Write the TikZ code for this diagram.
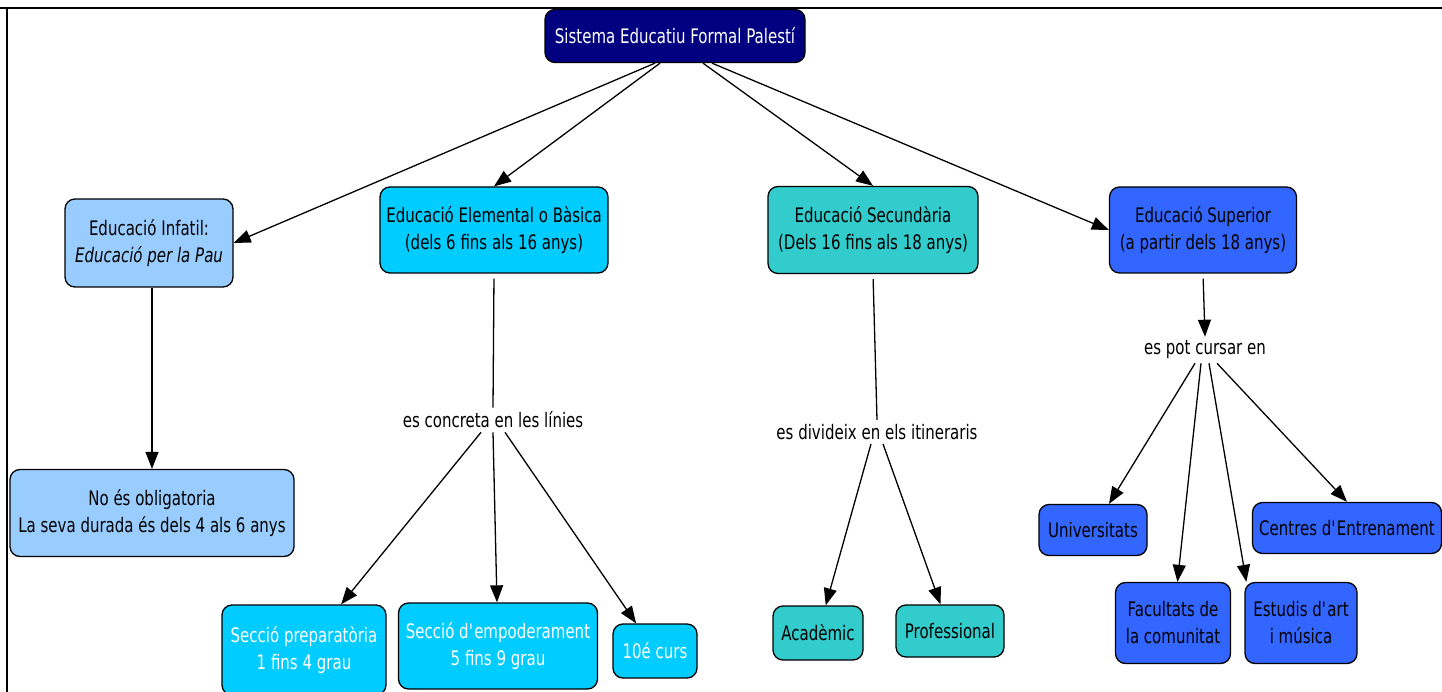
\documentclass[tikz,border=0pt]{standalone}
\usepackage{fontspec}
\setmainfont{DejaVu Sans}[FakeStretch=0.75]
\usepackage{tikz}
\usetikzlibrary{arrows.meta, positioning}
\definecolor{pal-navy}{HTML}{000080}
\definecolor{pal-sky}{HTML}{99CCFF}
\definecolor{pal-cyan}{HTML}{00CCFF}
\definecolor{pal-teal}{HTML}{33CCCC}
\definecolor{pal-blue}{HTML}{3366FF}

\begin{document}
\begin{tikzpicture}[x=1pt, y=-1pt,
		concept/.style={draw, line width=1.3pt, rounded corners=10pt, align=center, inner sep=4pt, font=\fontsize{20}{27}\selectfont},
		linker/.style={inner sep=4pt, font=\fontsize{20}{27}\selectfont},
		link/.style={line width=1.3pt, -{Triangle[length=17pt, width=13pt]}},
		plainlink/.style={line width=1.3pt, shorten <=5pt}]
	\useasboundingbox (0,0) rectangle (1442,692);
	\draw[line width=1.5pt] (0,8) -- (1442,8);
	\draw[line width=1.5pt] (7,8) -- (7,692);

	\node[concept, fill=pal-navy, text=white, minimum width=260pt, minimum height=53pt] at (675,36) (sys) {Sistema Educatiu Formal Palestí};

	\node[concept, fill=pal-sky, minimum width=168pt, minimum height=88pt] at (149,243) (inf) {Educació Infatil:\\\textit{Educació per la Pau}};
	\node[concept, fill=pal-cyan, minimum width=228pt, minimum height=86pt] at (494,230) (elem) {Educació Elemental o Bàsica\\(dels 6 fins als 16 anys)};
	\node[concept, fill=pal-teal, minimum width=210pt, minimum height=87pt] at (873,230) (sec) {Educació Secundària\\(Dels 16 fins als 18 anys)};
	\node[concept, fill=pal-blue, minimum width=187pt, minimum height=86pt] at (1203,230) (sup) {Educació Superior\\(a partir dels 18 anys)};

	\node[concept, fill=pal-sky, minimum width=284pt, minimum height=87pt] at (152,513) (noobl) {No és obligatoria\\La seva durada és dels 4 als 6 anys};

	\node[linker] at (493,420) (concreta) {es concreta en les línies};
	\node[linker] at (877,432) (divideix) {es divideix en els itineraris};
	\node[linker] at (1205,350) (cursar) {es pot cursar en};

	\node[concept, fill=pal-cyan, text=white, minimum width=164pt, minimum height=90pt] at (304,650) (prep) {Secció preparatòria\\1 fins 4 grau};
	\node[concept, fill=pal-cyan, text=white, minimum width=199pt, minimum height=86pt] at (498,646) (empod) {Secció d\textquotesingle empoderament\\5 fins 9 grau};
	\node[concept, fill=pal-cyan, text=white, minimum width=84pt, minimum height=54pt] at (655,651) (curs) {10é curs};

	\node[concept, fill=pal-teal, minimum width=90pt, minimum height=54pt] at (818,633) (acad) {Acadèmic};
	\node[concept, fill=pal-teal, minimum width=108pt, minimum height=52pt] at (950,631) (prof) {Professional};

	\node[concept, fill=pal-blue, minimum width=108pt, minimum height=51pt] at (1093,530) (univ) {Universitats};
	\node[concept, fill=pal-blue, minimum width=189pt, minimum height=51pt] at (1347,528) (centres) {Centres d\textquotesingle Entrenament};
	\node[concept, fill=pal-blue, minimum width=115pt, minimum height=81pt] at (1173,623) (facul) {Facultats de\\la comunitat};
	\node[concept, fill=pal-blue, minimum width=112pt, minimum height=81pt] at (1301,623) (estudis) {Estudis d\textquotesingle art\\i música};

	\draw[link] ([xshift=-20pt]sys.south) -- (inf.east);
	\draw[link] ([xshift=-15pt]sys.south) -- (elem.north);
	\draw[link] ([xshift=28pt]sys.south) -- (sec.north);
	\draw[link] ([xshift=37pt]sys.south) -- (sup.west);

	\draw[link] (inf.south -| noobl.north) -- (noobl.north);

	\draw[plainlink] (elem.south) -- (concreta.north);
	\draw[link] ([xshift=-12pt]concreta.south) -- (prep);
	\draw[link] (concreta.south) -- (empod);
	\draw[link] ([xshift=12pt]concreta.south) -- (curs);

	\draw[plainlink] (sec.south) -- (divideix.north);
	\draw[link] ([xshift=-6pt]divideix.south) -- (acad);
	\draw[link] ([xshift=6pt]divideix.south) -- (prof);

	\draw[link, shorten <=5pt] (sup.south) -- (cursar.north);
	\draw[link] ([xshift=-10pt]cursar.south) -- (univ);
	\draw[link] ([xshift=-4pt]cursar.south) -- (facul);
	\draw[link] ([xshift=4pt]cursar.south) -- ([xshift=2pt]estudis.north west);
	\draw[link] ([xshift=12pt]cursar.south) -- (centres.north);
\end{tikzpicture}
\end{document}
